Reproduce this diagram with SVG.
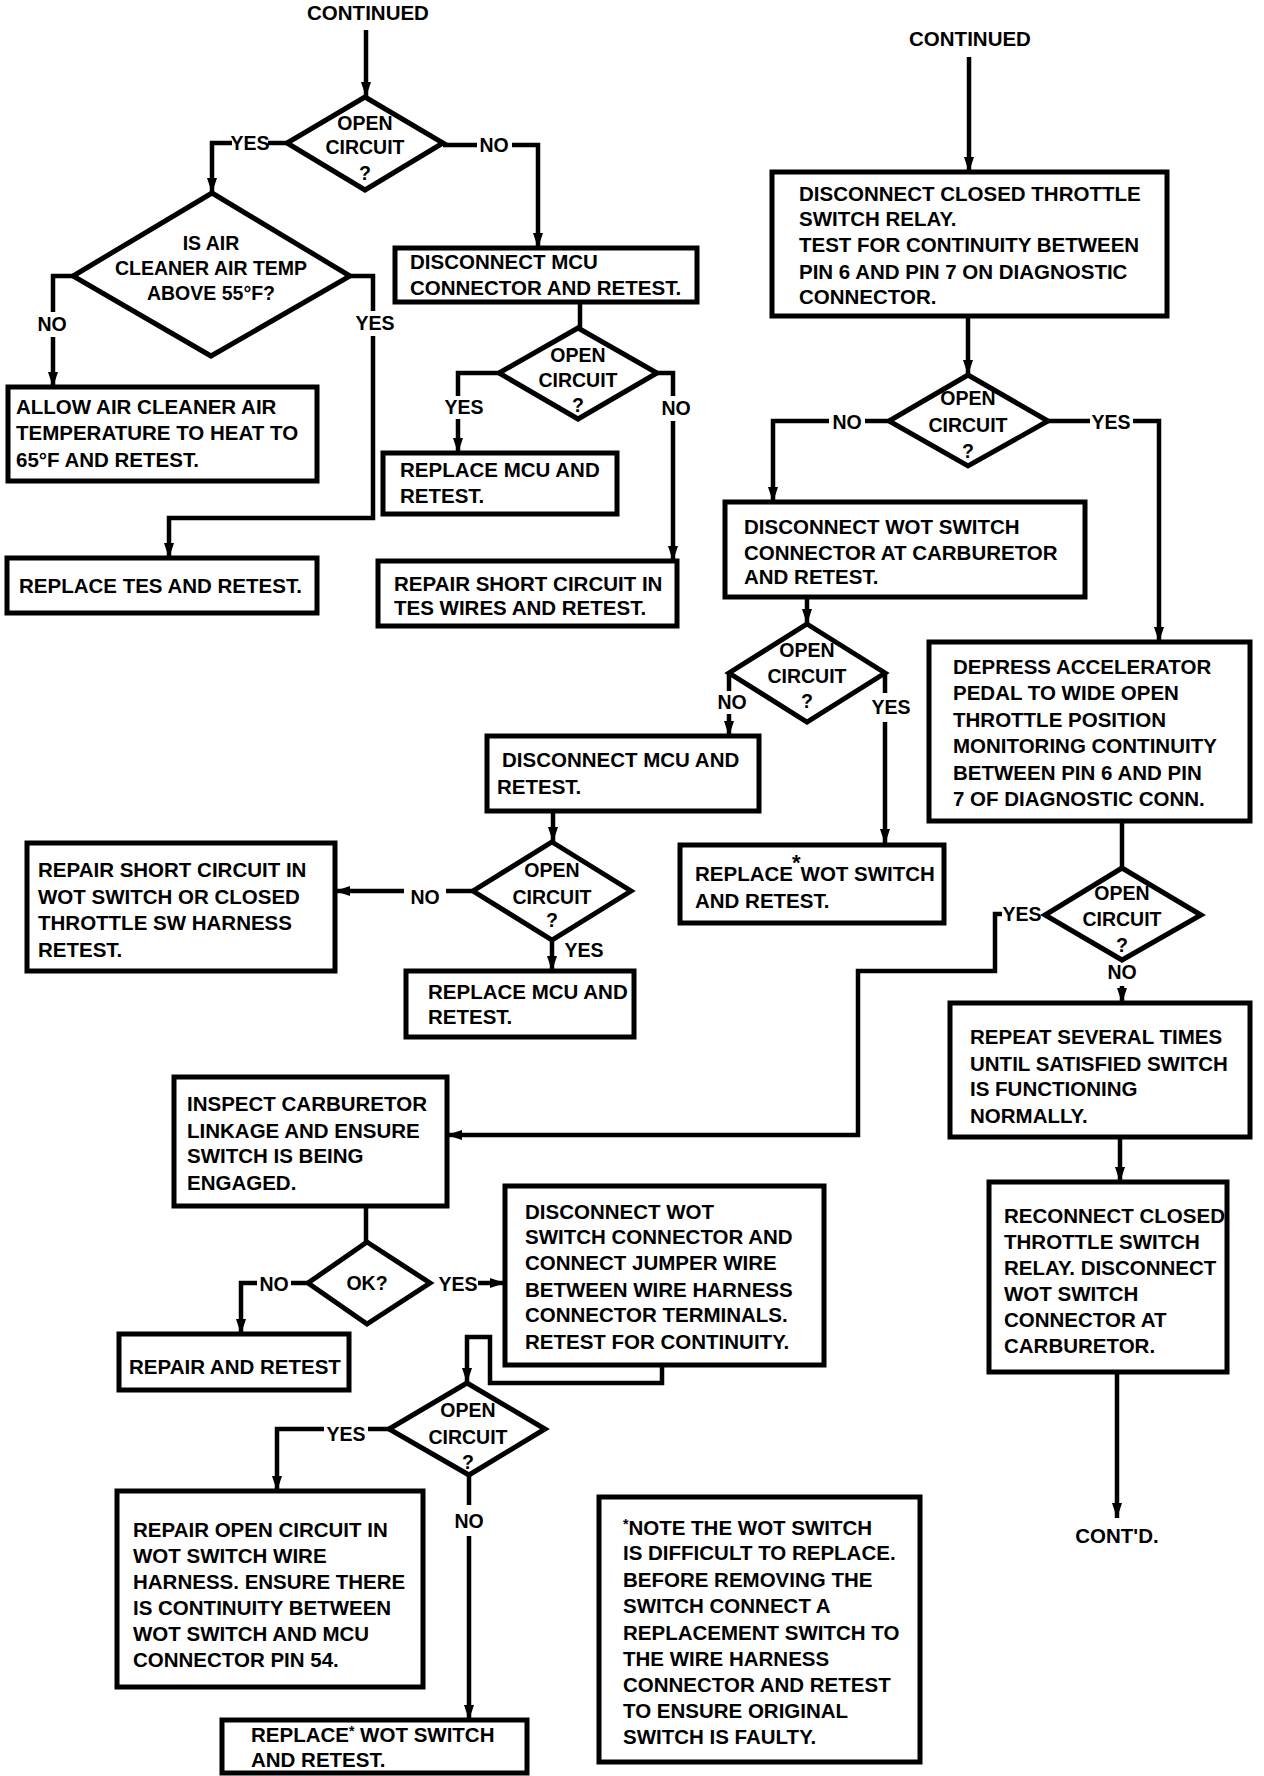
<svg xmlns="http://www.w3.org/2000/svg" width="1264" height="1776" viewBox="0 0 1264 1776">
<style>
.bg{fill:#fff}
.box{fill:#fff;stroke:#000;stroke-width:5}
.dia{fill:#fff;stroke:#000;stroke-width:5;stroke-linejoin:miter}
.ln{fill:none;stroke:#000;stroke-width:4.5;stroke-linejoin:miter}
.arr{marker-end:url(#ah)}
text{font-family:"Liberation Sans",Arial,Helvetica,sans-serif;font-weight:bold;font-size:20.5px;fill:#000}
.c{text-anchor:middle}
.lb{font-size:19.5px}
</style>
<defs>
<marker id="ah" markerUnits="userSpaceOnUse" markerWidth="16" markerHeight="12" refX="15" refY="6" orient="auto">
<path d="M0,1 L15,6 L0,11 z" fill="#000"/>
</marker>
</defs>
<rect class="bg" x="0" y="0" width="1264" height="1776"/>

<g id="connectors">
<line class="ln arr" x1="366" y1="30" x2="366" y2="97"/>
<line class="ln" x1="287" y1="143" x2="268" y2="143"/>
<polyline class="ln arr" points="232,143 212,143 212,193"/>
<line class="ln" x1="443" y1="145" x2="477" y2="145"/>
<polyline class="ln arr" points="512,145 538,145 538,248"/>
<polyline class="ln" points="73,276 53,276 53,312"/>
<line class="ln arr" x1="53" y1="337" x2="53" y2="387"/>
<polyline class="ln" points="350,276 373,276 373,311"/>
<polyline class="ln arr" points="373,336 373,518 169,518 169,558"/>
<line class="ln" x1="580" y1="302" x2="580" y2="328"/>
<polyline class="ln" points="499,373 458,373 458,396"/>
<line class="ln arr" x1="458" y1="419" x2="458" y2="453"/>
<polyline class="ln" points="657,373 673,373 673,396"/>
<line class="ln arr" x1="673" y1="421" x2="673" y2="561"/>

<line class="ln arr" x1="969" y1="57" x2="969" y2="172"/>
<line class="ln arr" x1="968" y1="316" x2="968" y2="375"/>
<line class="ln" x1="889" y1="421" x2="865" y2="421"/>
<polyline class="ln arr" points="829,421 773,421 773,502"/>
<line class="ln" x1="1048" y1="421" x2="1090" y2="421"/>
<polyline class="ln arr" points="1133,421 1159,421 1159,642"/>
<line class="ln arr" x1="807" y1="597" x2="807" y2="624"/>
<line class="ln" x1="729" y1="673" x2="729" y2="691"/>
<line class="ln arr" x1="729" y1="714" x2="729" y2="736"/>
<line class="ln" x1="885" y1="673" x2="885" y2="693"/>
<line class="ln arr" x1="885" y1="722" x2="885" y2="844"/>
<line class="ln arr" x1="553" y1="811" x2="553" y2="842"/>
<line class="ln" x1="473" y1="891" x2="446" y2="891"/>
<line class="ln arr" x1="404" y1="891" x2="335" y2="891"/>
<line class="ln arr" x1="552" y1="940" x2="552" y2="971"/>
<line class="ln" x1="1122" y1="821" x2="1122" y2="868"/>
<polyline class="ln arr" points="1002,914 995,914 995,971 858,971 858,1135 447,1135"/>
<line class="ln arr" x1="1122" y1="986" x2="1122" y2="1003"/>
<line class="ln arr" x1="1120" y1="1137" x2="1120" y2="1182"/>
<line class="ln arr" x1="1117" y1="1372" x2="1117" y2="1518"/>

<line class="ln" x1="366" y1="1206" x2="366" y2="1242"/>
<line class="ln" x1="308" y1="1283" x2="291" y2="1283"/>
<polyline class="ln arr" points="257,1283 241,1283 241,1334"/>
<line class="ln arr" x1="478" y1="1283" x2="505" y2="1283"/>
<polyline class="ln arr" points="662,1365 662,1383 490,1383 490,1337 467,1337 467,1383"/>
<line class="ln" x1="389" y1="1429" x2="368" y2="1429"/>
<polyline class="ln arr" points="324,1429 277,1429 277,1491"/>
<line class="ln" x1="469" y1="1475" x2="469" y2="1505"/>
<line class="ln arr" x1="469" y1="1536" x2="469" y2="1720"/>
</g>

<g id="continued-left"><text class="c" x="368" y="20">CONTINUED</text></g>

<g id="d-open1">
<polygon class="dia" points="365,97 443,143 365,190 287,143"/>
<text class="c lb" x="365" y="130">OPEN</text>
<text class="c lb" x="365" y="154">CIRCUIT</text>
<text class="c lb" x="365" y="180">?</text>
</g>
<g id="lbl-1">
<text class="c lb" x="250" y="150">YES</text>
<text class="c lb" x="494" y="152">NO</text>
</g>

<g id="d-airtemp">
<polygon class="dia" points="212,193 350,276 211,356 73,276"/>
<text class="c lb" x="211" y="250">IS AIR</text>
<text class="c lb" x="211" y="275">CLEANER AIR TEMP</text>
<text class="c lb" x="211" y="300">ABOVE 55°F?</text>
</g>
<g id="lbl-2">
<text class="c lb" x="52" y="331">NO</text>
<text class="c lb" x="375" y="330">YES</text>
</g>

<g id="b-allow">
<rect class="box" x="8" y="387" width="309" height="94"/>
<text x="16" y="414">ALLOW AIR CLEANER AIR</text>
<text x="16" y="440">TEMPERATURE TO HEAT TO</text>
<text x="16" y="467">65°F AND RETEST.</text>
</g>

<g id="b-replace-tes">
<rect class="box" x="7" y="558" width="310" height="55"/>
<text x="19" y="593">REPLACE TES AND RETEST.</text>
</g>

<g id="b-disc-mcu1">
<rect class="box" x="395" y="248" width="302" height="54"/>
<text x="410" y="269">DISCONNECT MCU</text>
<text x="410" y="295">CONNECTOR AND RETEST.</text>
</g>

<g id="d-open2">
<polygon class="dia" points="578,328 657,373 578,419 499,373"/>
<text class="c lb" x="578" y="362">OPEN</text>
<text class="c lb" x="578" y="387">CIRCUIT</text>
<text class="c lb" x="578" y="412">?</text>
</g>
<g id="lbl-3">
<text class="c lb" x="464" y="414">YES</text>
<text class="c lb" x="676" y="415">NO</text>
</g>

<g id="b-replace-mcu1">
<rect class="box" x="383" y="453" width="234" height="61"/>
<text x="400" y="477">REPLACE MCU AND</text>
<text x="400" y="503">RETEST.</text>
</g>

<g id="b-repair-tes">
<rect class="box" x="378" y="561" width="299" height="65"/>
<text x="394" y="591">REPAIR SHORT CIRCUIT IN</text>
<text x="394" y="615">TES WIRES AND RETEST.</text>
</g>

<g id="continued-right"><text class="c" x="970" y="46">CONTINUED</text></g>

<g id="b-closed-throttle">
<rect class="box" x="772" y="172" width="395" height="144"/>
<text x="799" y="201">DISCONNECT CLOSED THROTTLE</text>
<text x="799" y="226">SWITCH RELAY.</text>
<text x="799" y="252">TEST FOR CONTINUITY BETWEEN</text>
<text x="799" y="279">PIN 6 AND PIN 7 ON DIAGNOSTIC</text>
<text x="799" y="304">CONNECTOR.</text>
</g>

<g id="d-open-r1">
<polygon class="dia" points="968,375 1048,421 968,466 889,421"/>
<text class="c lb" x="968" y="405">OPEN</text>
<text class="c lb" x="968" y="432">CIRCUIT</text>
<text class="c lb" x="968" y="458">?</text>
</g>
<g id="lbl-r1">
<text class="c lb" x="847" y="429">NO</text>
<text class="c lb" x="1111" y="429">YES</text>
</g>

<g id="b-disc-wot">
<rect class="box" x="725" y="502" width="360" height="95"/>
<text x="744" y="534">DISCONNECT WOT SWITCH</text>
<text x="744" y="560">CONNECTOR AT CARBURETOR</text>
<text x="744" y="584">AND RETEST.</text>
</g>

<g id="d-open-r2">
<polygon class="dia" points="807,624 885,673 807,722 729,673"/>
<text class="c lb" x="807" y="657">OPEN</text>
<text class="c lb" x="807" y="683">CIRCUIT</text>
<text class="c lb" x="807" y="708">?</text>
</g>
<g id="lbl-r2">
<text class="c lb" x="732" y="709">NO</text>
<text class="c lb" x="891" y="714">YES</text>
</g>

<g id="b-disc-mcu2">
<rect class="box" x="487" y="736" width="272" height="75"/>
<text x="502" y="767">DISCONNECT MCU AND</text>
<text x="497" y="794">RETEST.</text>
</g>

<g id="d-open-m">
<polygon class="dia" points="552,842 631,891 552,940 473,891"/>
<text class="c lb" x="552" y="877">OPEN</text>
<text class="c lb" x="552" y="904">CIRCUIT</text>
<text class="c lb" x="552" y="927">?</text>
</g>
<g id="lbl-m">
<text class="c lb" x="425" y="904">NO</text>
<text class="c lb" x="584" y="957">YES</text>
</g>

<g id="b-repair-wot">
<rect class="box" x="27" y="843" width="308" height="128"/>
<text x="38" y="877">REPAIR SHORT CIRCUIT IN</text>
<text x="38" y="904">WOT SWITCH OR CLOSED</text>
<text x="38" y="930">THROTTLE SW HARNESS</text>
<text x="38" y="957">RETEST.</text>
</g>

<g id="b-replace-mcu2">
<rect class="box" x="406" y="971" width="228" height="66"/>
<text x="428" y="999">REPLACE MCU AND</text>
<text x="428" y="1024">RETEST.</text>
</g>

<g id="b-replace-wot1">
<rect class="box" x="680" y="845" width="264" height="78"/>
<text x="695" y="881">REPLACE<tspan font-size="22" dx="-1" dy="-11">*</tspan><tspan dx="0" dy="11">WOT SWITCH</tspan></text>
<text x="695" y="908">AND RETEST.</text>
</g>

<g id="b-depress">
<rect class="box" x="929" y="642" width="321" height="179"/>
<text x="953" y="674">DEPRESS ACCELERATOR</text>
<text x="953" y="700">PEDAL TO WIDE OPEN</text>
<text x="953" y="727">THROTTLE POSITION</text>
<text x="953" y="753">MONITORING CONTINUITY</text>
<text x="953" y="780">BETWEEN PIN 6 AND PIN</text>
<text x="953" y="806">7 OF DIAGNOSTIC CONN.</text>
</g>

<g id="d-open-r3">
<polygon class="dia" points="1122,868 1201,915 1122,960 1045,915"/>
<text class="c lb" x="1122" y="900">OPEN</text>
<text class="c lb" x="1122" y="926">CIRCUIT</text>
<text class="c lb" x="1122" y="952">?</text>
</g>
<g id="lbl-r3">
<text class="c lb" x="1022" y="921">YES</text>
<text class="c lb" x="1122" y="979">NO</text>
</g>

<g id="b-repeat">
<rect class="box" x="950" y="1003" width="300" height="134"/>
<text x="970" y="1044">REPEAT SEVERAL TIMES</text>
<text x="970" y="1071">UNTIL SATISFIED SWITCH</text>
<text x="970" y="1096">IS FUNCTIONING</text>
<text x="970" y="1123">NORMALLY.</text>
</g>

<g id="b-reconnect">
<rect class="box" x="989" y="1182" width="238" height="190"/>
<text x="1004" y="1223">RECONNECT CLOSED</text>
<text x="1004" y="1249">THROTTLE SWITCH</text>
<text x="1004" y="1275">RELAY. DISCONNECT</text>
<text x="1004" y="1301">WOT SWITCH</text>
<text x="1004" y="1327">CONNECTOR AT</text>
<text x="1004" y="1353">CARBURETOR.</text>
</g>

<g id="contd"><text class="c" x="1117" y="1543">CONT'D.</text></g>

<g id="b-inspect">
<rect class="box" x="174" y="1077" width="273" height="129"/>
<text x="187" y="1111">INSPECT CARBURETOR</text>
<text x="187" y="1138">LINKAGE AND ENSURE</text>
<text x="187" y="1163">SWITCH IS BEING</text>
<text x="187" y="1190">ENGAGED.</text>
</g>

<g id="d-ok">
<polygon class="dia" points="367,1242 430,1283 367,1324 308,1283"/>
<text class="c lb" x="367" y="1290">OK?</text>
</g>
<g id="lbl-ok">
<text class="c lb" x="274" y="1291">NO</text>
<text class="c lb" x="458" y="1291">YES</text>
</g>

<g id="b-repair-retest">
<rect class="box" x="119" y="1334" width="230" height="56"/>
<text x="129" y="1374">REPAIR AND RETEST</text>
</g>

<g id="b-jumper">
<rect class="box" x="505" y="1186" width="319" height="179"/>
<text x="525" y="1219">DISCONNECT WOT</text>
<text x="525" y="1244">SWITCH CONNECTOR AND</text>
<text x="525" y="1270">CONNECT JUMPER WIRE</text>
<text x="525" y="1297">BETWEEN WIRE HARNESS</text>
<text x="525" y="1322">CONNECTOR TERMINALS.</text>
<text x="525" y="1349">RETEST FOR CONTINUITY.</text>
</g>

<g id="d-open-b">
<polygon class="dia" points="467,1383 545,1429 469,1475 389,1429"/>
<text class="c lb" x="468" y="1417">OPEN</text>
<text class="c lb" x="468" y="1444">CIRCUIT</text>
<text class="c lb" x="468" y="1469">?</text>
</g>
<g id="lbl-b">
<text class="c lb" x="346" y="1441">YES</text>
<text class="c lb" x="469" y="1528">NO</text>
</g>

<g id="b-repair-open">
<rect class="box" x="117" y="1491" width="306" height="196"/>
<text x="133" y="1537">REPAIR OPEN CIRCUIT IN</text>
<text x="133" y="1563">WOT SWITCH WIRE</text>
<text x="133" y="1589">HARNESS. ENSURE THERE</text>
<text x="133" y="1615">IS CONTINUITY BETWEEN</text>
<text x="133" y="1641">WOT SWITCH AND MCU</text>
<text x="133" y="1667">CONNECTOR PIN 54.</text>
</g>

<g id="b-replace-wot2">
<rect class="box" x="222" y="1720" width="305" height="53"/>
<text x="251" y="1742">REPLACE<tspan font-size="14" dy="-6">*</tspan><tspan dy="6"> WOT SWITCH</tspan></text>
<text x="251" y="1767">AND RETEST.</text>
</g>

<g id="b-note">
<rect class="box" x="599" y="1497" width="321" height="265"/>
<text x="623" y="1535"><tspan font-size="14" dy="-6">*</tspan><tspan dy="6">NOTE THE WOT SWITCH</tspan></text>
<text x="623" y="1560">IS DIFFICULT TO REPLACE.</text>
<text x="623" y="1587">BEFORE REMOVING THE</text>
<text x="623" y="1613">SWITCH CONNECT A</text>
<text x="623" y="1640">REPLACEMENT SWITCH TO</text>
<text x="623" y="1666">THE WIRE HARNESS</text>
<text x="623" y="1692">CONNECTOR AND RETEST</text>
<text x="623" y="1718">TO ENSURE ORIGINAL</text>
<text x="623" y="1744">SWITCH IS FAULTY.</text>
</g>
</svg>
